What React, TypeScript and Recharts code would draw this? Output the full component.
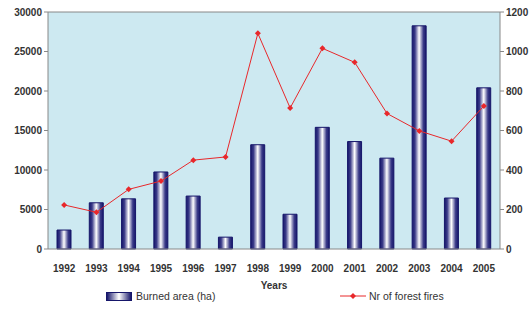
import React from "react";
import {
  ComposedChart,
  Bar,
  Line,
  XAxis,
  YAxis,
  CartesianGrid,
  ReferenceLine,
} from "recharts";

const years = ["1992", "1993", "1994", "1995", "1996", "1997", "1998", "1999", "2000", "2001", "2002", "2003", "2004", "2005"];
const burnedArea = [2400, 5850, 6350, 9750, 6700, 1500, 13200, 4400, 15400, 13600, 11500, 28250, 6450, 20400];
const forestFires = [223, 186, 302, 344, 450, 466, 1092, 714, 1016, 945, 686, 598, 546, 724];
const leftTicks = [0, 5000, 10000, 15000, 20000, 25000, 30000];
const rightTicks = [0, 200, 400, 600, 800, 1000, 1200];

const data = years.map((y, i) => ({ year: y, area: burnedArea[i], fires: forestFires[i] }));

const tickStyle = { fontFamily: "Liberation Sans, Arial, sans-serif", fontSize: 10, fontWeight: 700, fill: "#333" };

const legendText: React.CSSProperties = {
  fontFamily: "Liberation Sans, Arial, sans-serif",
  fontSize: 10.5,
  color: "#333",
};

const Marker = (props: any) => {
  const { cx, cy } = props;
  if (cx == null || cy == null) return null;
  return <path d={`M${cx},${cy - 3} L${cx + 3},${cy} L${cx},${cy + 3} L${cx - 3},${cy} Z`} fill="#e8282b" />;
};

export default function App() {
  return (
    <div style={{ position: "absolute", left: 0, top: 0, width: 532, height: 315, background: "#fff" }}>
      <ComposedChart
        width={532}
        height={315}
        data={data}
        margin={{ top: 12, right: 0, bottom: 0, left: 0 }}
        barCategoryGap={0}
      >
        <defs>
          <linearGradient id="barGrad" x1="0" y1="0" x2="1" y2="0">
            <stop offset="0%" stopColor="#16166a" />
            <stop offset="20%" stopColor="#3a3a88" />
            <stop offset="50%" stopColor="#ffffff" />
            <stop offset="80%" stopColor="#3a3a88" />
            <stop offset="100%" stopColor="#16166a" />
          </linearGradient>
        </defs>
        <CartesianGrid fill="#cde9f1" stroke="none" horizontal={false} vertical={false} />
        <XAxis
          dataKey="year"
          height={66}
          tick={tickStyle}
          tickLine={false}
          axisLine={{ stroke: "#888" }}
          tickMargin={10}
          label={{ value: "Years", position: "insideTop", offset: 33, style: tickStyle }}
        />
        <YAxis
          yAxisId="left"
          orientation="left"
          width={48}
          domain={[0, 30000]}
          ticks={leftTicks}
          tick={tickStyle}
          tickLine={{ stroke: "#888" }}
          tickSize={4}
          axisLine={{ stroke: "#888" }}
          interval={0}
        />
        <YAxis
          yAxisId="right"
          orientation="right"
          width={32}
          domain={[0, 1200]}
          ticks={rightTicks}
          tick={tickStyle}
          tickLine={{ stroke: "#888" }}
          tickSize={4}
          axisLine={{ stroke: "#888" }}
          interval={0}
        />
        <ReferenceLine yAxisId="left" y={30000} stroke="#888" />
        <Bar
          yAxisId="left"
          dataKey="area"
          barSize={14}
          fill="url(#barGrad)"
          stroke="#16166a"
          strokeWidth={1}
          isAnimationActive={false}
        />
        <Line
          yAxisId="right"
          dataKey="fires"
          type="linear"
          stroke="#e8282b"
          strokeWidth={1}
          dot={<Marker />}
          isAnimationActive={false}
        />
      </ComposedChart>
      <div style={{ position: "absolute", left: 106, top: 290, display: "flex", alignItems: "center", ...legendText }}>
        <span
          style={{
            display: "inline-block",
            width: 24,
            height: 7,
            marginRight: 4,
            background: "linear-gradient(to right, #16166a, #ffffff, #16166a)",
            border: "1px solid #16166a",
          }}
        />
        Burned area (ha)
      </div>
      <div style={{ position: "absolute", left: 340, top: 290, display: "flex", alignItems: "center", ...legendText }}>
        <svg width={26} height={10} style={{ marginRight: 3 }}>
          <line x1={0} y1={5} x2={26} y2={5} stroke="#e8282b" strokeWidth={1} />
          <path d="M13,2 L16,5 L13,8 L10,5 Z" fill="#e8282b" />
        </svg>
        Nr of forest fires
      </div>
    </div>
  );
}
